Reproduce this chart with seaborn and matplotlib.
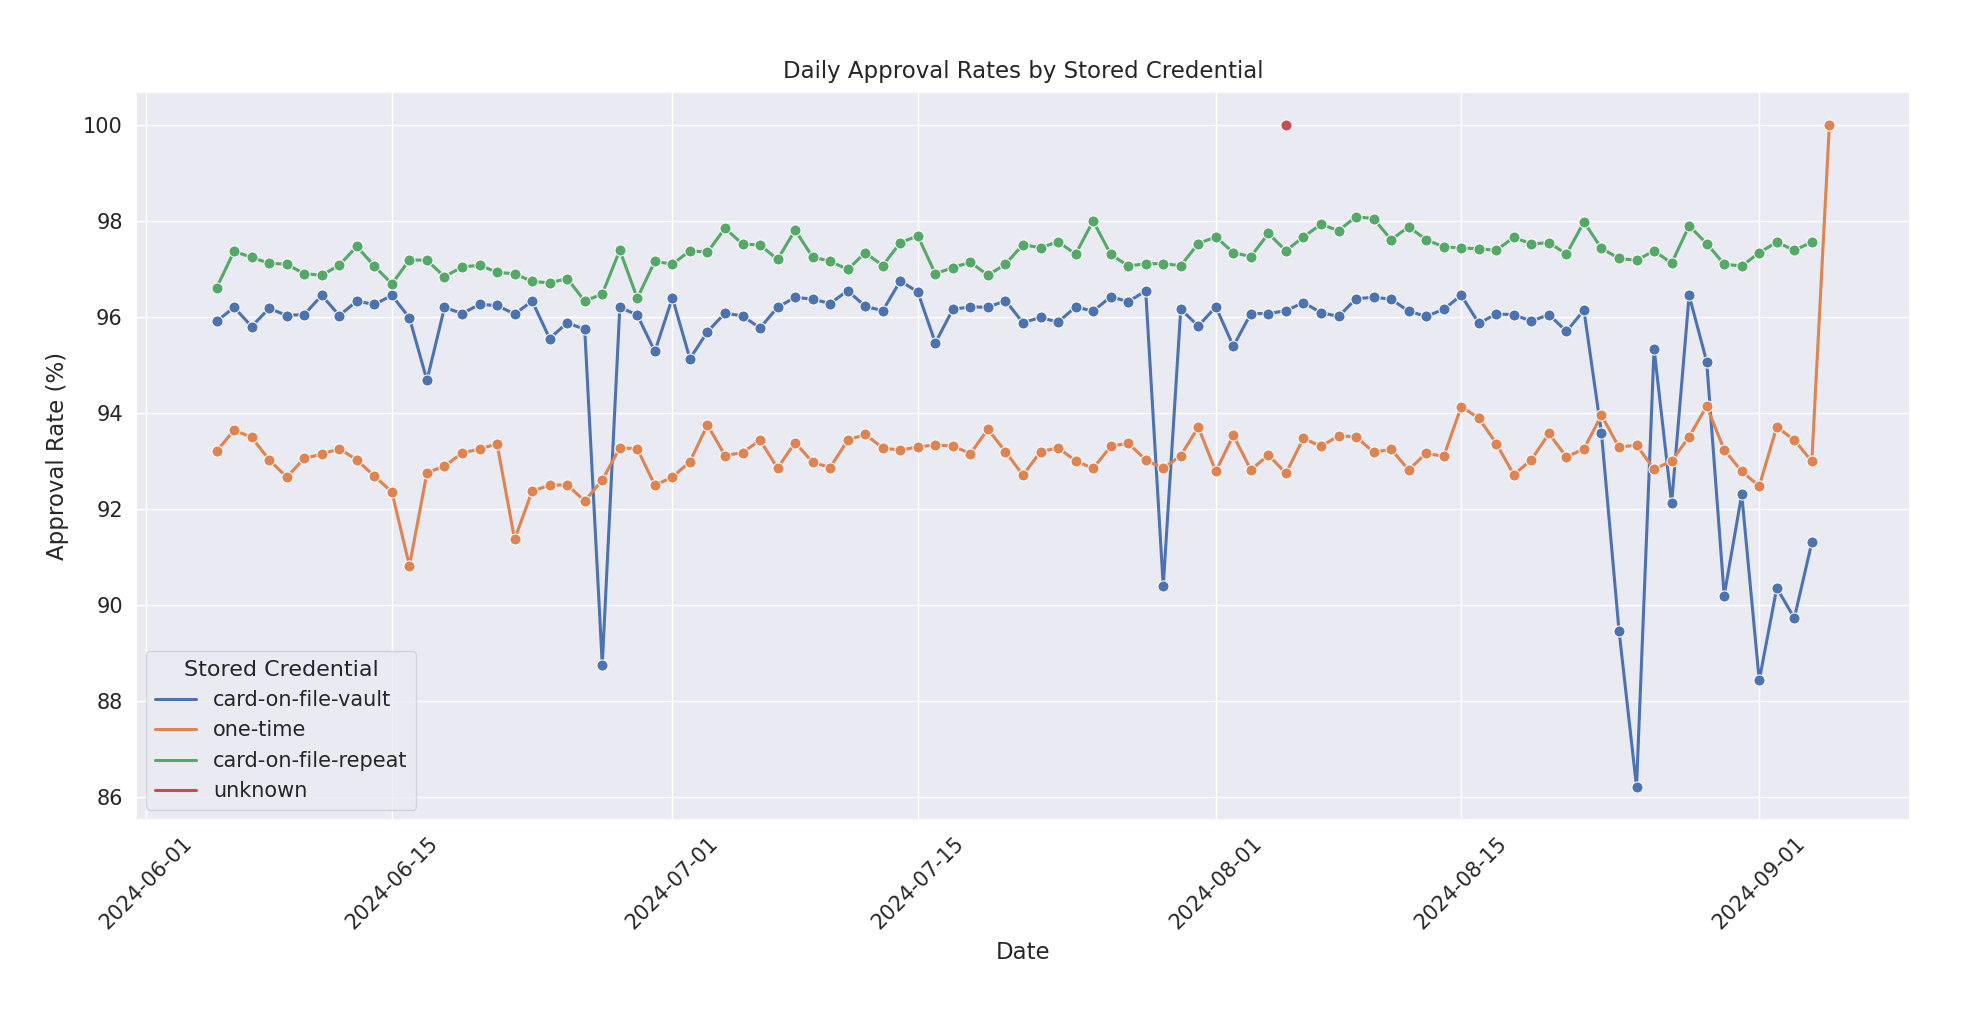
import pandas as pd
import matplotlib
matplotlib.use("Agg")
import matplotlib.pyplot as plt
import seaborn as sns

# 일별 승인율 (%) - 차트에서 읽은 값
vault_start = "2024-06-05"
vault_rates = [
    95.91, 96.20, 95.80, 96.18, 96.03, 96.05, 96.45, 96.03, 96.33, 96.26,
    96.45, 95.98, 94.68, 96.20, 96.07, 96.26, 96.24, 96.06, 96.33, 95.55,
    95.88, 95.74, 88.75, 96.20, 96.04, 95.28,
    96.40, 95.13, 95.69, 96.08, 96.02, 95.77, 96.20, 96.41, 96.37, 96.28,
    96.55, 96.22, 96.13, 96.75, 96.52, 95.46, 96.16, 96.21, 96.20, 96.34,
    95.88, 95.99, 95.89, 96.21, 96.12, 96.42, 96.32, 96.54, 90.39, 96.16,
    95.81,
    96.21, 95.39, 96.07, 96.07, 96.13, 96.30, 96.09, 96.01, 96.38, 96.41,
    96.37, 96.12, 96.01, 96.16, 96.45, 95.87, 96.06, 96.05, 95.91, 96.05,
    95.70, 96.14, 93.58, 89.46, 86.20, 95.34, 92.11, 96.45, 95.07, 90.19,
    92.30,
    88.42, 90.35, 89.72, 91.30,
]

onetime_start = "2024-06-05"
onetime_rates = [
    93.20, 93.64, 93.49, 93.02, 92.66, 93.05, 93.14, 93.25, 93.02, 92.68,
    92.35, 90.81, 92.75, 92.89, 93.16, 93.25, 93.35, 91.36, 92.37, 92.49,
    92.50, 92.16, 92.60, 93.27, 93.25, 92.49,
    92.66, 92.98, 93.75, 93.11, 93.17, 93.43, 92.85, 93.38, 92.97, 92.86,
    93.43, 93.55, 93.27, 93.22, 93.29, 93.33, 93.31, 93.15, 93.66, 93.19,
    92.70, 93.19, 93.27, 93.00, 92.84, 93.30, 93.37, 93.02, 92.84, 93.11,
    93.70,
    92.78, 93.53, 92.81, 93.12, 92.74, 93.47, 93.30, 93.52, 93.50, 93.18,
    93.24, 92.81, 93.16, 93.09, 94.13, 93.89, 93.36, 92.71, 93.02, 93.57,
    93.08, 93.25, 93.95, 93.28, 93.33, 92.82, 93.00, 93.50, 94.14, 93.23,
    92.78,
    92.47, 93.71, 93.43, 92.99, 100.0,
]

repeat_start = "2024-06-05"
repeat_rates = [
    96.61, 97.37, 97.24, 97.12, 97.10, 96.90, 96.87, 97.08, 97.47, 97.06,
    96.69, 97.19, 97.18, 96.84, 97.04, 97.08, 96.93, 96.90, 96.74, 96.71,
    96.80, 96.33, 96.48, 97.39, 96.39, 97.16,
    97.10, 97.38, 97.35, 97.85, 97.52, 97.50, 97.20, 97.81, 97.25, 97.16,
    96.99, 97.34, 97.07, 97.55, 97.69, 96.90, 97.03, 97.14, 96.87, 97.10,
    97.51, 97.44, 97.57, 97.31, 98.00, 97.31, 97.06, 97.11, 97.11, 97.07,
    97.53,
    97.67, 97.34, 97.26, 97.74, 97.38, 97.67, 97.93, 97.80, 98.09, 98.05,
    97.61, 97.88, 97.61, 97.46, 97.44, 97.42, 97.39, 97.66, 97.52, 97.55,
    97.31, 97.98, 97.43, 97.22, 97.18, 97.38, 97.12, 97.90, 97.53, 97.10,
    97.06,
    97.34, 97.56, 97.39, 97.56,
]

unknown_dates = ["2024-08-05"]
unknown_rates = [100.0]

credential_order = ["card-on-file-vault", "one-time", "card-on-file-repeat", "unknown"]


def series_frame(name, start, rates):
    dates = pd.date_range(start, periods=len(rates), freq="D")
    return pd.DataFrame({"Date": dates, "Approval Rate": rates, "Stored Credential": name})


frames = [
    series_frame("card-on-file-vault", vault_start, vault_rates),
    series_frame("one-time", onetime_start, onetime_rates),
    series_frame("card-on-file-repeat", repeat_start, repeat_rates),
    pd.DataFrame({"Date": pd.to_datetime(unknown_dates), "Approval Rate": unknown_rates,
                  "Stored Credential": "unknown"}),
]
df = pd.concat(frames, ignore_index=True)

sns.set_theme(style="darkgrid", palette="deep")

fig, ax = plt.subplots(figsize=(19.62, 10.18), dpi=100)
fig.subplots_adjust(left=0.0693, right=0.9735, top=0.9096, bottom=0.1945)

sns.lineplot(data=df, x="Date", y="Approval Rate", hue="Stored Credential",
             hue_order=credential_order, marker="o", markersize=8,
             linewidth=2.2, ax=ax)

ax.set_title("Daily Approval Rates by Stored Credential", fontsize=16.5, pad=10)
ax.set_xlabel("Date", fontsize=16.5, labelpad=6)
ax.set_ylabel("Approval Rate (%)", fontsize=16.5, labelpad=10)
ax.tick_params(axis="both", labelsize=15)
plt.setp(ax.get_xticklabels(), rotation=45)

# 범례: 선만 표시
leg = ax.legend(title="Stored Credential", loc="lower left", fontsize=15, title_fontsize=16)
for h in leg.legend_handles:
    h.set_marker("")

fig.savefig("out.png", dpi=100)
